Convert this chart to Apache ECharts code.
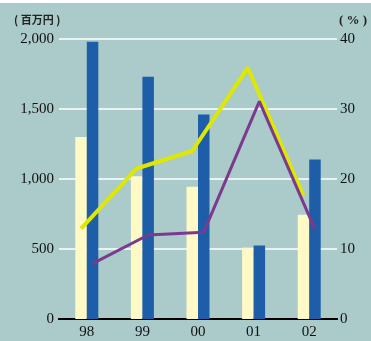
<!DOCTYPE html>
<html><head><meta charset="utf-8">
<script src="https://cdn.jsdelivr.net/npm/echarts@6/dist/echarts.min.js"></script>
<style>html,body{margin:0;padding:0;background:#fff;}#c{position:absolute;left:0;top:3px;width:371px;height:338px;}</style>
</head><body><div id="c"></div>
<script>
var categories = ['98', '99', '00', '01', '02'];
var barCream = [1300, 1020, 945, 510, 745];
var barBlue = [1980, 1730, 1460, 525, 1140];
var lineYellow = [12.9, 21.5, 24.0, 35.9, 17.6];
var linePurple = [7.9, 12.0, 12.4, 31.1, 12.8];
var leftTicks = [0, 500, 1000, 1500, 2000];
var rightTicks = [0, 10, 20, 30, 40];

var chart = echarts.init(document.getElementById('c'));
var serif = 'Liberation Serif';
var T = 36, B = 22;
function hiddenX(gi){return {type:'category',gridIndex:gi,data:categories,show:false,boundaryGap:true};}
function hiddenY(gi){return {type:'value',gridIndex:gi,min:0,max:40,interval:10,show:false};}
chart.setOption({
  backgroundColor: '#aacbc9',
  animation: false,
  title: [
    {text:'( 百万円 )', left:9, top:6, textStyle:{fontFamily:'Noto Sans CJK JP', fontSize:11, fontWeight:'bold', color:'#222'}},
    {text:'( % )', left:334, top:6, textStyle:{fontFamily:serif, fontSize:13, fontWeight:'bold', color:'#222'}}
  ],
  grid: [
    {left:59, right:34, top:T, bottom:B},
    {left:53.25, right:39.75, top:T, bottom:B},
    {left:64.75, right:28.25, top:T, bottom:B}
  ],
  xAxis: [
    {type:'category', gridIndex:0, data:categories, position:'bottom',
     axisLine:{lineStyle:{color:'#000', width:2}}, axisTick:{show:false},
     axisLabel:{fontFamily:serif, fontSize:15, color:'#111', margin:6}},
    {type:'category', gridIndex:0, data:categories, position:'top',
     axisLine:{lineStyle:{color:'#000', width:2}}, axisTick:{show:false}, axisLabel:{show:false}},
    hiddenX(1), hiddenX(2)
  ],
  yAxis: [
    {type:'value', gridIndex:0, min:0, max:2000, interval:500,
     axisLine:{show:false}, axisTick:{show:false},
     splitLine:{lineStyle:{color:'#ffffff', width:1.5}},
     axisLabel:{fontFamily:serif, fontSize:15, color:'#111', margin:5,
       formatter:function(v){return leftTicks.indexOf(v)>=0 ? v.toLocaleString('en-US') : '';}}},
    {type:'value', gridIndex:0, min:0, max:40, interval:10, position:'right',
     axisLine:{show:false}, axisTick:{show:false}, splitLine:{show:false},
     axisLabel:{fontFamily:serif, fontSize:15, color:'#111', margin:3,
       formatter:function(v){return rightTicks.indexOf(v)>=0 ? String(v) : '';}}},
    hiddenY(1), hiddenY(2)
  ],
  series: [
    {name:'系列1', type:'bar', xAxisIndex:0, yAxisIndex:0, data:barCream, barWidth:11.5, barGap:'0%',
     itemStyle:{color:'#fff9c6'}},
    {name:'系列2', type:'bar', xAxisIndex:0, yAxisIndex:0, data:barBlue, barWidth:11.5, barGap:'0%',
     itemStyle:{color:'#1e5da8'}},
    {name:'系列3', type:'line', xAxisIndex:2, yAxisIndex:2, data:lineYellow, symbol:'none',
     lineStyle:{color:'#dfe800', width:4}, z:5},
    {name:'系列4', type:'line', xAxisIndex:3, yAxisIndex:3, data:linePurple, symbol:'none',
     lineStyle:{color:'#7b3a8e', width:3}, z:6}
  ]
});
</script></body></html>
